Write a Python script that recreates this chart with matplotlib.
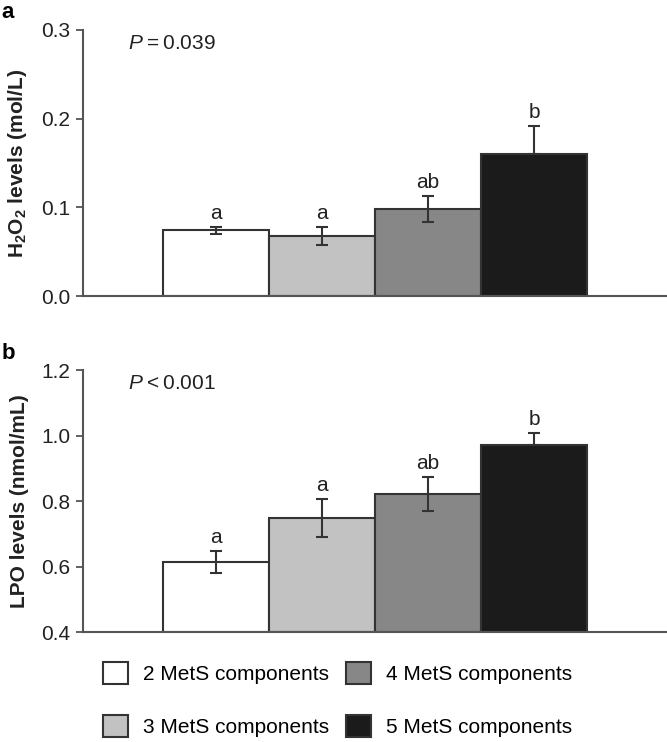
import matplotlib
matplotlib.use("Agg")
import matplotlib.pyplot as plt
from matplotlib.patches import Patch

plt.rcParams['font.family'] = ['Liberation Sans', 'DejaVu Sans']
plt.rcParams['mathtext.fontset'] = 'custom'
plt.rcParams['mathtext.rm'] = 'Liberation Sans'
plt.rcParams['mathtext.it'] = 'Liberation Sans:italic'
plt.rcParams['mathtext.bf'] = 'Liberation Sans:bold'

groups = ["2 MetS components", "3 MetS components", "4 MetS components", "5 MetS components"]
colors = ["#ffffff", "#c2c2c2", "#878787", "#1b1b1b"]

h2o2_mean = [0.074, 0.068, 0.098, 0.160]
h2o2_err = [0.004, 0.010, 0.015, 0.032]
h2o2_letters = ["a", "a", "ab", "b"]

lpo_mean = [0.613, 0.747, 0.821, 0.970]
lpo_err = [0.033, 0.058, 0.051, 0.038]
lpo_letters = ["a", "a", "ab", "b"]

fig = plt.figure(figsize=(6.67, 7.42), dpi=100)
fs = 15
edge = "#333333"
spine_c = "#555555"

def panel(rect, means, errs, letters, ylim, yticks, ylabel, ptext, plabel):
    ax = fig.add_axes(rect)
    x = list(range(len(means)))
    base = ylim[0]
    ax.bar(x, [m - base for m in means], bottom=base, width=1.0, color=colors,
           edgecolor=edge, linewidth=1.5, zorder=2)
    for i, (m, e) in enumerate(zip(means, errs)):
        lower = 0 if i == 3 else e
        ax.errorbar(i, m, yerr=[[lower], [e]], fmt='none', ecolor=edge,
                    elinewidth=1.5, capsize=4.5, capthick=1.5, zorder=3)
        ax.annotate(letters[i], (i, m + e), xytext=(0, 3), textcoords='offset points',
                    ha='center', va='bottom', fontsize=fs, color='#222222')
    ax.set_xlim(-1.25, 4.25)
    ax.set_ylim(*ylim)
    ax.set_yticks(yticks)
    ax.set_yticklabels([f"{t:.1f}" for t in yticks])
    ax.set_xticks([])
    for s in ['top', 'right']:
        ax.spines[s].set_visible(False)
    for s in ['left', 'bottom']:
        ax.spines[s].set_color(spine_c)
        ax.spines[s].set_linewidth(1.5)
    ax.tick_params(axis='y', labelsize=fs, colors='#222222', length=5, width=1.3,
                   color=spine_c, pad=4)
    ax.set_ylabel(ylabel, fontsize=fs, fontweight='bold', labelpad=9, color='#222222')
    ax.text(0.078, 0.95, ptext, transform=ax.transAxes, fontsize=fs, va='center',
            ha='left', color='#222222')
    ax.text(-0.139, 1.065, plabel, transform=ax.transAxes, fontsize=fs + 1,
            fontweight='bold', va='center', ha='left')
    return ax

panel([0.1244, 0.601, 0.875, 0.3586], h2o2_mean, h2o2_err, h2o2_letters,
      (0.0, 0.3), [0.0, 0.1, 0.2, 0.3], r"$\mathbf{H_2O_2}$ levels (mol/L)",
      "$\\it{P}$\u2009=\u20090.039", "a")
panel([0.1244, 0.1482, 0.875, 0.3531], lpo_mean, lpo_err, lpo_letters,
      (0.4, 1.2), [0.4, 0.6, 0.8, 1.0, 1.2], "LPO levels (nmol/mL)",
      "$\\it{P}$\u2009<\u20090.001", "b")

handles = [Patch(facecolor=c, edgecolor=edge, linewidth=1.5) for c in colors]
fig.legend(handles, groups,
           loc='upper left', bbox_to_anchor=(103 / 667, 1 - 662 / 742), ncol=2,
           frameon=False, fontsize=fs, handlelength=1.2, handleheight=1.25,
           handletextpad=0.7, columnspacing=0.85, labelspacing=1.5, borderpad=0,
           borderaxespad=0)

fig.savefig("out.png", dpi=100)
